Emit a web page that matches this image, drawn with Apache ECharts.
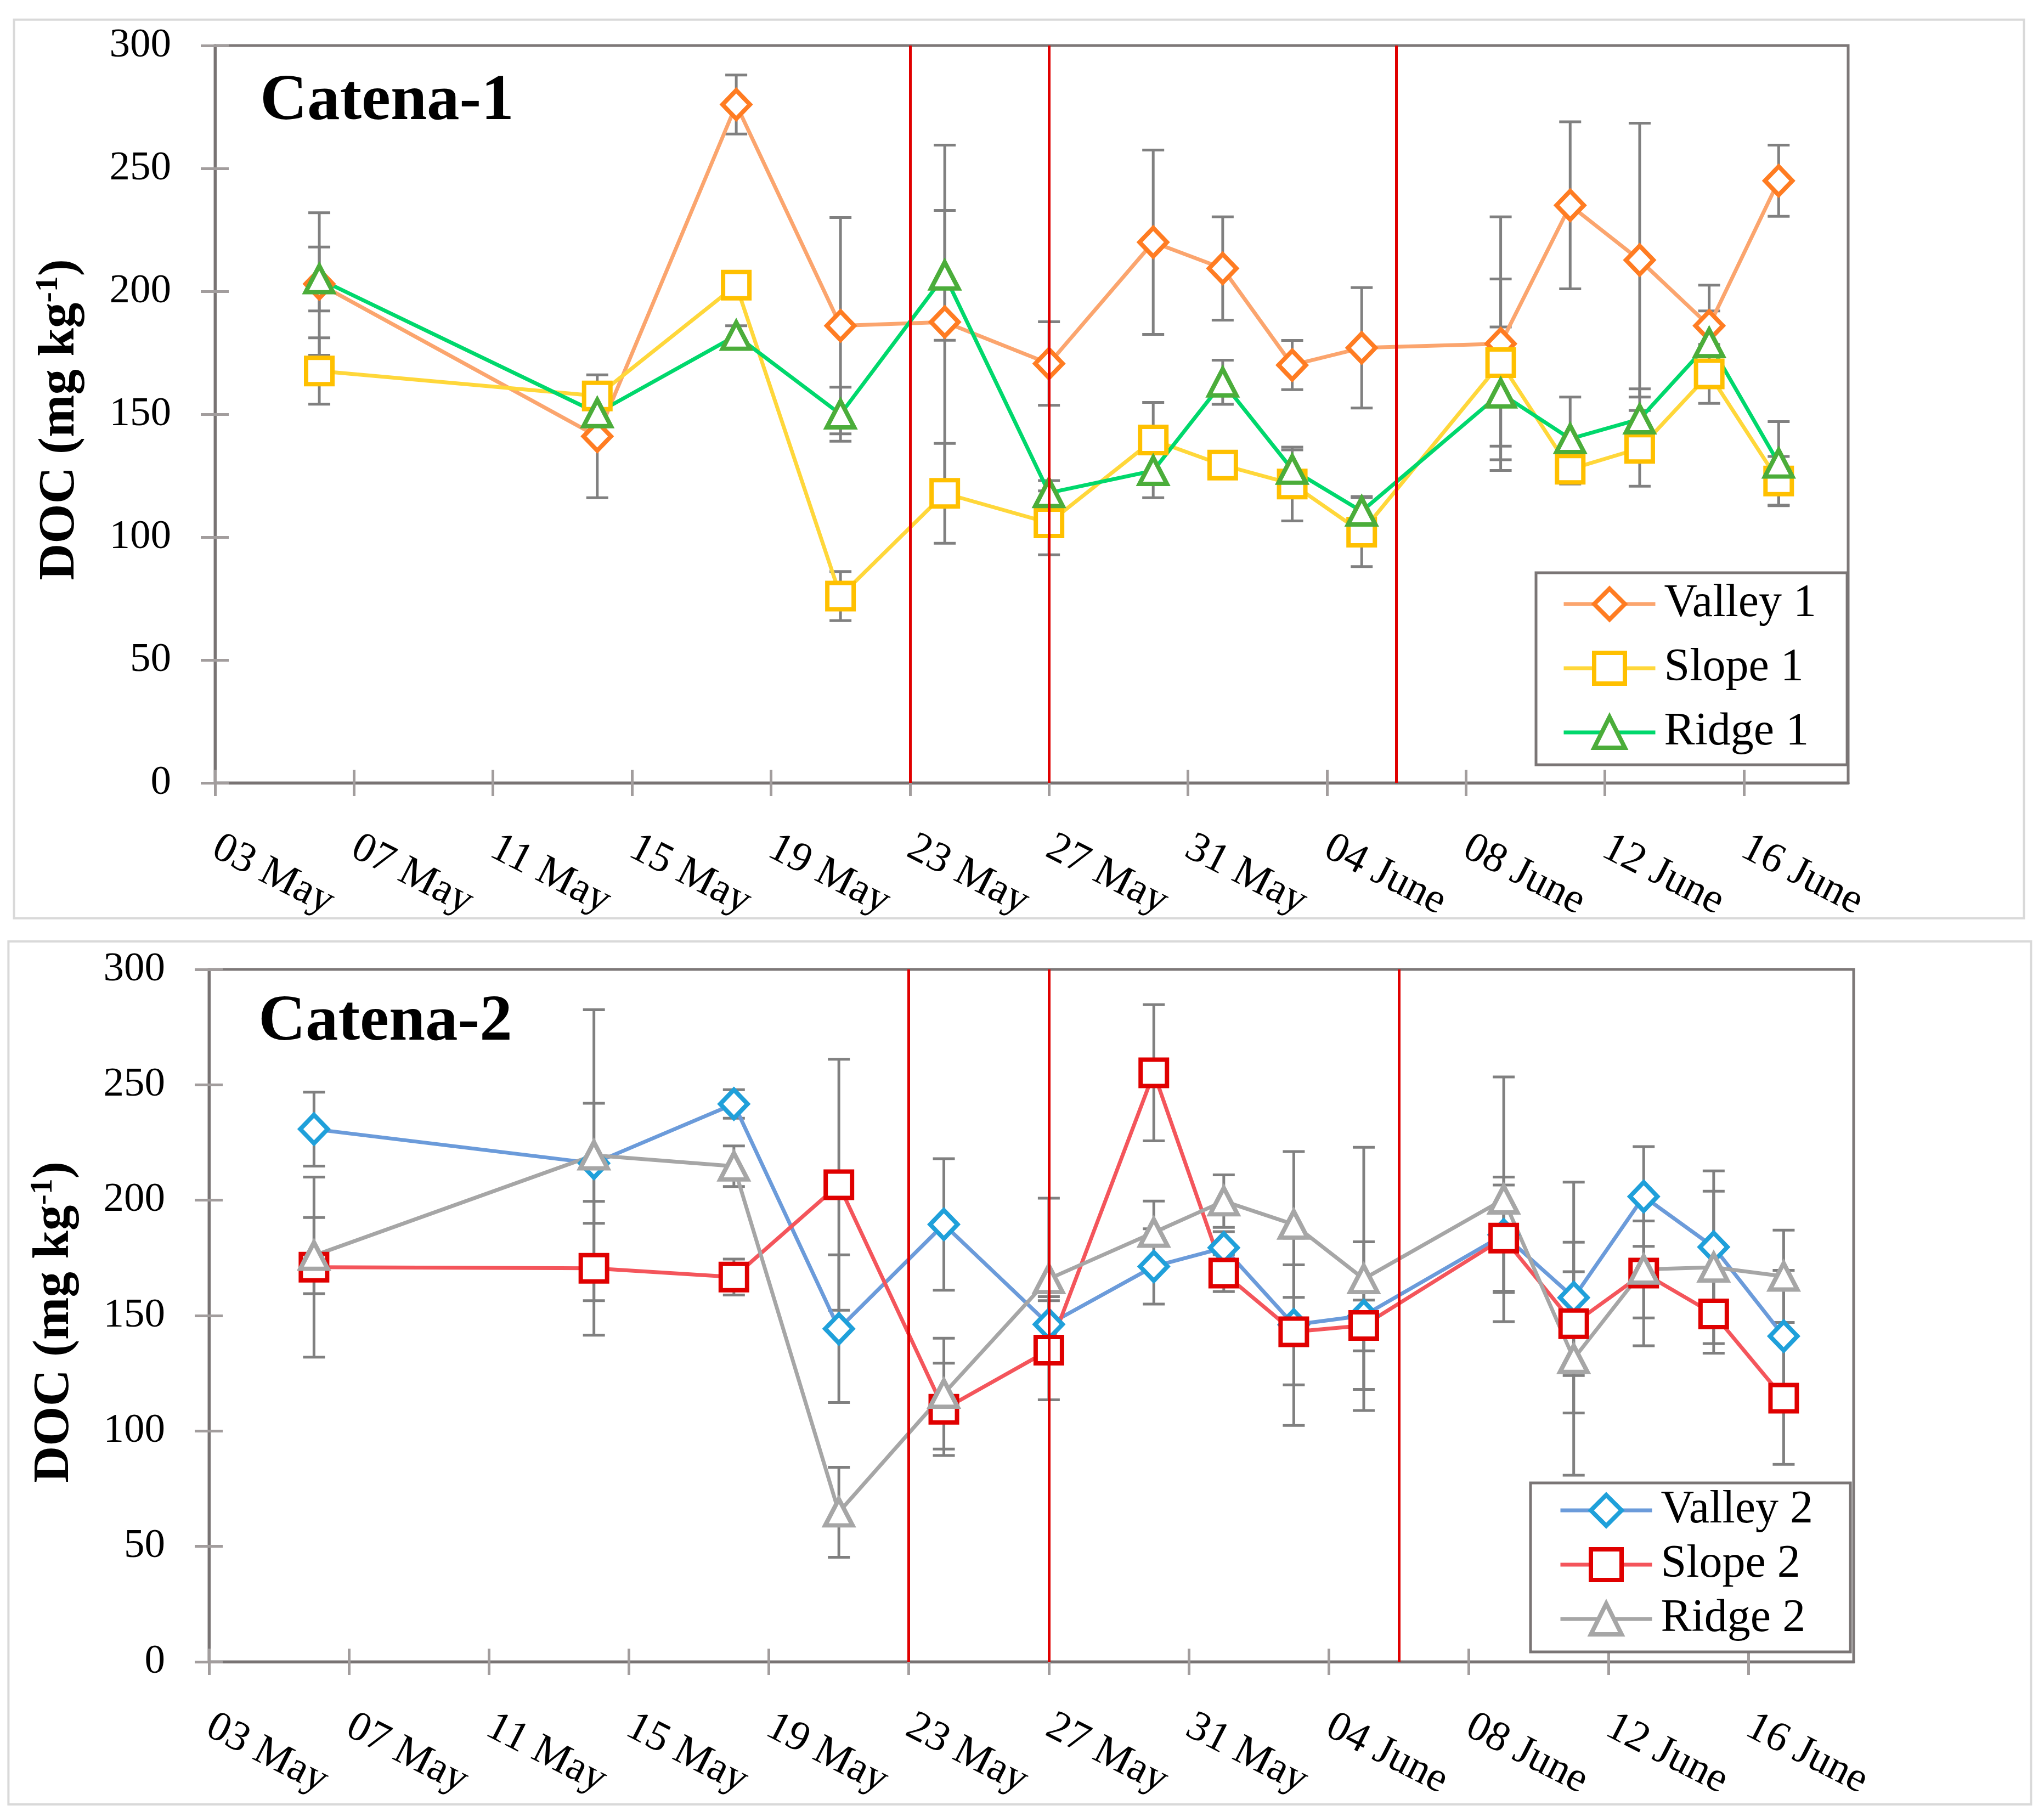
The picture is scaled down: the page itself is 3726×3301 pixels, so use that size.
<!DOCTYPE html>
<html><head><meta charset="utf-8">
<script src="https://cdn.jsdelivr.net/npm/echarts@6/dist/echarts.min.js"></script>
<style>html,body{margin:0;padding:0;background:#fff}#c{width:3726px;height:3301px}</style>
</head><body><div id="c"></div><script>
// ---- data ----
const sampleDates = ['05-06','05-14','05-18','05-21','05-24','05-27','05-30','06-01','06-03','06-05','06-09','06-11','06-13','06-15','06-17'];
const axisStartDate = '05-03';
const axisEndDate = '06-19';
const tickDates = ['05-03','05-07','05-11','05-15','05-19','05-23','05-27','05-31','06-04','06-08','06-12','06-16'];
const tickLabels = ['03 May','07 May','11 May','15 May','19 May','23 May','27 May','31 May','04 June','08 June','12 June','16 June'];
const redLineDates = ['05-23','05-27','06-06'];
const yMin = 0, yMax = 300, yStep = 50;

const valley1 = [203, 141, 276, 186, 187.5, 170.6, 220, 209.3, 170, 177, 178.7, 235, 212.7, 186, 245];
const valley1Err = [29, 25, 12, 44, 72, 17, 37.5, 21, 10, 24.5, 51.6, 34, 55.7, 16.5, 14.5];
const slope1 = [167.6, 157.4, 202.5, 76, 117.8, 105.8, 139.5, 129.3, 121.6, 102, 171, 127.6, 136.1, 166.4, 122.8];
const slope1Err = [13.5, 5, 3, 10, 20.3, 13, 15.3, 5, 15, 14, 34, 6, 15.4, 12, 10];
const ridge1 = [205, 150.5, 182, 150, 206.5, 118, 127, 163, 127.5, 110.5, 158.5, 140, 148, 179, 130];
const ridge1Err = [13, 4, 4, 11, 26.4, 5, 11, 9, 8, 6, 27, 17, 12.3, 13, 17];

const valley2 = [230.8, 216, 241.7, 144.3, 189.5, 146.2, 171.3, 179.4, 146, 150, 185, 157.8, 201.6, 179.7, 141.1];
const valley2Err = [16, 26, 6.2, 32, 28.5, 12, 16.3, 7, 26, 32, 25, 50, 21.6, 33, 28.5];
const slope2 = [171, 170.5, 166.7, 206.7, 109.4, 135, 255.2, 168.4, 143, 145.7, 183.6, 146.5, 168.4, 150.7, 114.2];
const slope2Err = [39, 29, 7.8, 54.4, 20, 21.5, 29.5, 8, 40.6, 11, 23, 22.5, 31.5, 17, 28.7];
const ridge2 = [176, 219.5, 214.7, 64.8, 116.2, 165.9, 186, 199.6, 189.5, 165.9, 200.4, 131.3, 170, 170.9, 167];
const ridge2Err = [16.5, 63, 8.8, 19.5, 24, 35, 13.6, 11.4, 31.6, 57, 53, 50.5, 21, 33, 20];

const panelTitles = ['Catena-1', 'Catena-2'];
const panelSeries = [
  [
    {name:'Valley 1', values:valley1, err:valley1Err, line:'#FBA56E', mark:'#FF7C22', symbol:'diamond'},
    {name:'Slope 1', values:slope1, err:slope1Err, line:'#FFD73A', mark:'#FFC000', symbol:'rect'},
    {name:'Ridge 1', values:ridge1, err:ridge1Err, line:'#00D86C', mark:'#4BAD3A', symbol:'triangle'}
  ],
  [
    {name:'Valley 2', values:valley2, err:valley2Err, line:'#6B9BDA', mark:'#1FA0DA', symbol:'diamond'},
    {name:'Slope 2', values:slope2, err:slope2Err, line:'#F4555B', mark:'#E00000', symbol:'rect'},
    {name:'Ridge 2', values:ridge2, err:ridge2Err, line:'#A6A6A6', mark:'#A6A6A6', symbol:'triangle'}
  ]
];

// ---- helpers ----
function dayOf(s){const p=s.split('-').map(Number);const q=axisStartDate.split('-').map(Number);
  return Math.round((Date.UTC(2000,p[0]-1,p[1])-Date.UTC(2000,q[0]-1,q[1]))/86400000);}
const xMax = dayOf(axisEndDate);
const tickDays = tickDates.map(dayOf);
const sampleDays = sampleDates.map(dayOf);

const F = 'Liberation Serif';
const axisCol = '#787373';
const tickCol = '#a29d9d';
const errCol = '#808080';
const LW = 7, BW = 8;

const grids = [
  {left:392, top:83, width:2977, height:1344},
  {left:381, top:1767, width:2998, height:1262}
];
const legends = [
  {left:2800, top:1044, padding:[15,56,17,47], itemGap:33},
  {left:2790, top:2703, padding:[8,68,18,51], itemGap:15}
];
const titlePos = [[474,186],[471,1864]];
const ylabPos = [[110,765],[100,2410]];

const xAxes = [], yAxes = [], series = [], legendOpts = [], graphics = [];

graphics.push({type:'rect', shape:{x:25.5,y:35.7,width:3664,height:1638}, style:{fill:'none',stroke:'#d9d9d9',lineWidth:4}, silent:true});
graphics.push({type:'rect', shape:{x:15.4,y:1716,width:3687,height:1573}, style:{fill:'none',stroke:'#d9d9d9',lineWidth:4}, silent:true});

function errRender(params, api){
  const x = api.value(0), y = api.value(1), e = api.value(2);
  const t = api.coord([x, y+e]), b = api.coord([x, y-e]);
  const hw = 20;
  const st = {stroke:errCol, lineWidth:5};
  return {type:'group', children:[
    {type:'line', shape:{x1:t[0],y1:t[1],x2:b[0],y2:b[1]}, style:st},
    {type:'line', shape:{x1:t[0]-hw,y1:t[1],x2:t[0]+hw,y2:t[1]}, style:st},
    {type:'line', shape:{x1:b[0]-hw,y1:b[1],x2:b[0]+hw,y2:b[1]}, style:st}
  ]};
}

const symSize = {diamond:[50,52], rect:[48,48], triangle:[50,48]};

panelSeries.forEach((list, g) => {
  const xi = xAxes.length, yi = yAxes.length;
  const xBase = {type:'value', gridIndex:g, min:0, max:xMax, interval:4, position:'bottom', splitLine:{show:false}};
  xAxes.push(Object.assign({}, xBase, {
    axisLine:{show:true, lineStyle:{color:axisCol, width:5}},
    axisTick:{show:true, length:24, customValues:tickDays, lineStyle:{color:tickCol, width:5}},
    axisLabel:{show:true, customValues:tickDays, rotate:-27, margin:114, fontSize:77, fontFamily:F, color:'#000',
      formatter:(v)=>{const i=tickDays.indexOf(Math.round(v)); return i>=0?tickLabels[i]:'';}}
  }));
  xAxes.push(Object.assign({}, xBase, {
    axisLine:{show:false},
    axisTick:{show:true, inside:true, length:24, customValues:tickDays, lineStyle:{color:tickCol, width:5}},
    axisLabel:{show:false}
  }));
  const yBase = {type:'value', gridIndex:g, min:yMin, max:yMax, interval:yStep, position:'left', splitLine:{show:false}};
  yAxes.push(Object.assign({}, yBase, {
    axisLine:{show:true, lineStyle:{color:axisCol, width:5}},
    axisTick:{show:true, length:26, lineStyle:{color:tickCol, width:5}},
    axisLabel:{show:true, margin:80, fontSize:75, fontFamily:F, color:'#000'}
  }));
  yAxes.push(Object.assign({}, yBase, {
    axisLine:{show:false},
    axisTick:{show:true, inside:true, length:25, lineStyle:{color:tickCol, width:5}},
    axisLabel:{show:false}
  }));

  list.forEach(s => {
    series.push({
      type:'custom', name:s.name+' err', xAxisIndex:xi, yAxisIndex:yi, z:1, silent:true,
      renderItem: errRender, encode:{x:0, y:1},
      data: sampleDays.map((d,i)=>[d, s.values[i], s.err[i]])
    });
  });
  list.forEach(s => {
    series.push({
      type:'line', name:s.name, xAxisIndex:xi, yAxisIndex:yi, z:3,
      data: sampleDays.map((d,i)=>[d, s.values[i]]),
      symbol:s.symbol, symbolSize:symSize[s.symbol], showAllSymbol:true,
      lineStyle:{color:s.line, width:LW},
      itemStyle:{color:'#ffffff', borderColor:s.mark, borderWidth:BW},
      emphasis:{disabled:true}, animation:false
    });
  });
  series.push({
    type:'line', name:'red'+g, xAxisIndex:xi, yAxisIndex:yi, z:6, data:[], silent:true,
    markLine:{silent:true, symbol:['none','none'], animation:false, label:{show:false},
      lineStyle:{color:'#E00000', width:5, type:'solid'},
      data: redLineDates.map(d=>({xAxis:dayOf(d)}))}
  });

  const L = legends[g];
  legendOpts.push({
    data: list.map(s=>s.name), orient:'vertical', left:L.left, top:L.top, padding:L.padding,
    itemGap:L.itemGap, itemWidth:167, itemHeight:70, backgroundColor:'#fff',
    borderColor:'#7a7575', borderWidth:5, borderRadius:0, selectedMode:false,
    itemStyle:{borderWidth:BW}, lineStyle:{width:LW},
    textStyle:{fontSize:84, fontFamily:F, color:'#000', padding:[0,0,0,11]}
  });

  graphics.push({type:'text', x:titlePos[g][0], y:titlePos[g][1], silent:true,
    style:{text:panelTitles[g], font:'bold 119px "Liberation Serif"', fill:'#000', align:'left', verticalAlign:'middle'}});
  graphics.push({type:'text', x:ylabPos[g][0], y:ylabPos[g][1], rotation:Math.PI/2, silent:true,
    style:{text:'{b|DOC (mg kg}{s|-1}{b|)}', align:'center', verticalAlign:'middle',
      rich:{b:{fontSize:93, fontWeight:'bold', fontFamily:F, fill:'#000', lineHeight:100},
            s:{fontSize:58, fontWeight:'bold', fontFamily:F, fill:'#000', verticalAlign:'top', lineHeight:100}}}});
});

const chart = echarts.init(document.getElementById('c'), null, {renderer:'canvas'});
chart.setOption({
  animation:false,
  backgroundColor:'#fff',
  grid: grids.map(g=>Object.assign({show:true, borderColor:'#7d7878', borderWidth:5, containLabel:false}, g)),
  xAxis:xAxes, yAxis:yAxes, series:series, legend:legendOpts, graphic:graphics
});
</script></body></html>
